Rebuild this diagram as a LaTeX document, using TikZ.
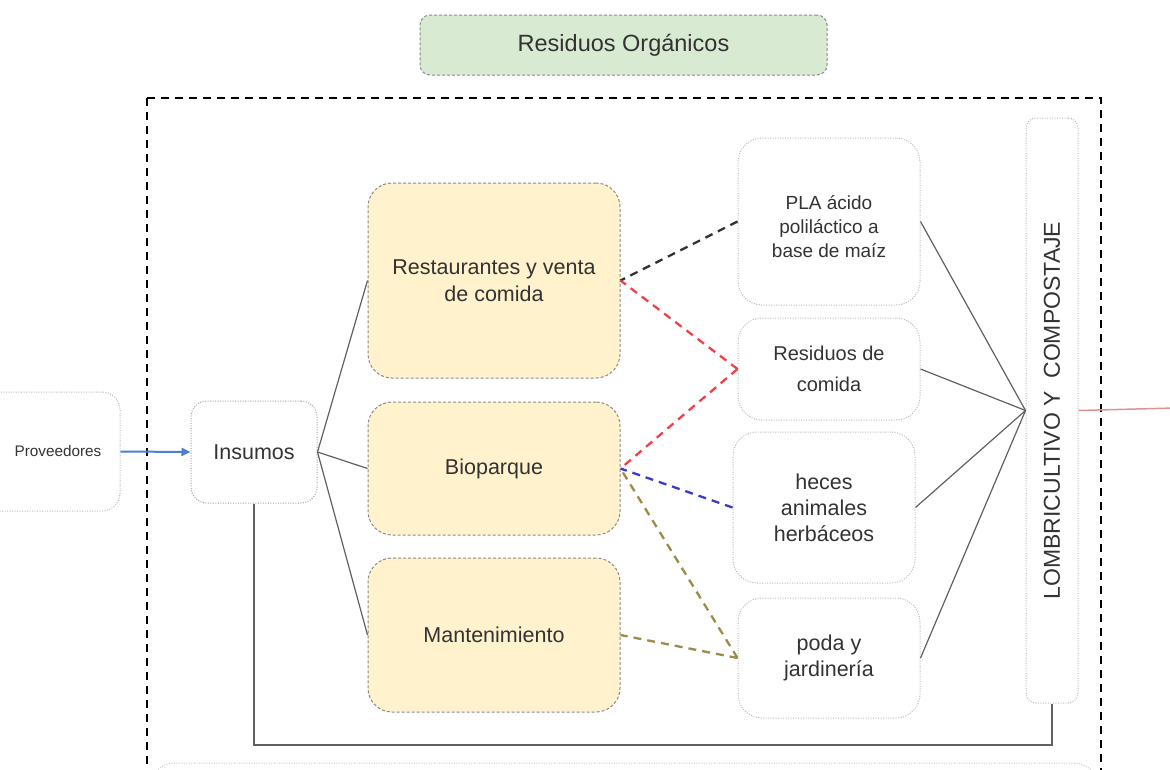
\documentclass[tikz,border=0pt]{standalone}
\usepackage{fontspec}
\setmainfont{Liberation Sans}
\usetikzlibrary{arrows.meta,calc}

\definecolor{greenfill}{HTML}{D9EAD3}
\definecolor{yellowfill}{HTML}{FFF2CC}
\definecolor{txt}{HTML}{333333}
\definecolor{boxline}{HTML}{8A8A8A}
\definecolor{dotline}{HTML}{B8B8B8}
\definecolor{linkred}{HTML}{F0404A}
\definecolor{linkblue}{HTML}{3A3ACC}
\definecolor{linkolive}{HTML}{9C8C4A}
\definecolor{arrowblue}{HTML}{4A7FD8}
\definecolor{outred}{HTML}{E39090}

\tikzset{
  lbl/.style={text=txt, align=center, inner sep=0pt},
  greenbox/.style={lbl, draw=boxline, fill=greenfill, rounded corners=10pt,
    dash pattern=on 3pt off 2pt, line width=1pt, font=\fontsize{23.5}{28}\selectfont},
  yellowbox/.style={lbl, draw=boxline, fill=yellowfill, rounded corners=24pt,
    dash pattern=on 3pt off 2pt, line width=1pt, font=\fontsize{21.5}{27}\selectfont},
  dotbox/.style={lbl, draw=dotline, rounded corners=24pt,
    dash pattern=on 1pt off 1.5pt, line width=1pt, font=\fontsize{21.5}{26}\selectfont},
  link/.style={line width=1.2pt, color=#1!75!black, line cap=butt},
  dlink/.style={line width=2.3pt, color=#1, dash pattern=on 8pt off 6pt},
}

\begin{document}
\begin{tikzpicture}[x=1pt, y=-1pt]
\useasboundingbox (0,0) rectangle (1170,769);
\clip (0,0) rectangle (1170,769);

% outer dashed frame
\draw[line width=2.5pt, dash pattern=on 8pt off 6pt] (147,98) rectangle (1101,800);

% faint box just below the frame
\draw[dotline!80, line width=1pt, dash pattern=on 1pt off 1.5pt, rounded corners=24pt]
  (150,763) rectangle (1098,860);

% title
\node[greenbox, minimum width=407pt, minimum height=60pt] (resorg) at (623.5,45) {Residuos Orgánicos};

% supply chain
\node[dotbox, rounded corners=18pt, minimum width=140pt, minimum height=119pt,
      font=\fontsize{15.3}{18}\selectfont] (prov) at (50,451.5) {\hspace*{16pt}Proveedores};
\node[dotbox, draw=boxline!80, rounded corners=16pt, minimum width=126pt, minimum height=102pt]
      (ins) at (254,452) {Insumos};

% sources
\node[yellowbox, minimum width=252pt, minimum height=195pt] (rest) at (494,280.5) {Restaurantes y venta\\de comida};
\node[yellowbox, minimum width=252pt, minimum height=133pt] (bio) at (494,468.5) {Bioparque};
\node[yellowbox, minimum width=252pt, minimum height=154pt] (mant) at (494,635) {Mantenimiento};

% waste types
\node[dotbox, minimum width=182pt, minimum height=167pt] (pla) at (829,221.5) {};
\node[lbl, font=\fontsize{19}{24}\selectfont] (platxt) at (829,226.5) {PLA ácido\\poliláctico a\\base de maíz};
\node[dotbox, minimum width=182pt, minimum height=102pt, font=\fontsize{20}{31}\selectfont]
      (rc) at (829,369) {Residuos de\\comida};
\node[dotbox, minimum width=182pt, minimum height=151pt] (hec) at (824,507.5) {heces\\animales\\herbáceos};
\node[dotbox, minimum width=182pt, minimum height=120pt] (poda) at (829,658) {poda y\\jardinería};

% treatment
\node[dotbox, rounded corners=10pt, minimum width=52pt, minimum height=585pt] (lomb) at (1052,410.5) {};
\node[lbl, rotate=90, font=\fontsize{23}{26}\selectfont] (lombtxt) at (1052,410.5) {LOMBRICULTIVO Y\ \ COMPOSTAJE};

% supply arrow
\draw[line width=2pt, arrowblue, -{Triangle[length=9pt,width=8pt]}] (prov.east) -- (ins.west);

% distribution of supplies
\draw[link=gray] (ins.east) -- (rest.west);
\draw[link=gray] (ins.east) -- (bio.west);
\draw[link=gray] (ins.east) -- (mant.west);

% waste generated by each source
\draw[dlink=black!80] (pla.west) -- (rest.east);
\draw[dlink=linkred] (rc.west) -- (rest.east);
\draw[dlink=linkred] (rc.west) -- (bio.east);
\draw[dlink=linkblue] (hec.west) -- (bio.east);
\draw[dlink=linkolive] (poda.west) -- (bio.east);
\draw[dlink=linkolive] (poda.west) -- (mant.east);

% all waste goes to the treatment
\draw[link=gray] (pla.east) -- (lomb.west);
\draw[link=gray] (rc.east) -- (lomb.west);
\draw[link=gray] (hec.east) -- (lomb.west);
\draw[link=gray] (poda.east) -- (lomb.west);

% return loop to supplies
\coordinate (loopy) at (600,745);
\draw[link=gray] (ins.south) -- (ins.south |- loopy) -| (lomb.south);

% output
\coordinate (outR) at (1175,408);
\draw[line width=1.5pt, outred] (lomb.east) -- (outR);
\end{tikzpicture}
\end{document}
